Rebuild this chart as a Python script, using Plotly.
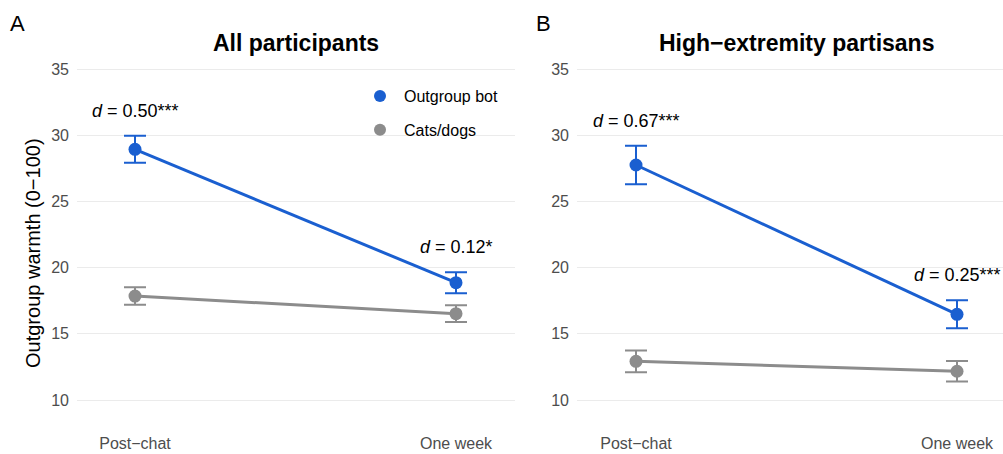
import plotly.graph_objects as go

# ---- data ----
timepoints = ["Post\u2212chat", "One week"]
series_names = ["Outgroup bot", "Cats/dogs"]

all_bot_mean = [28.93, 18.86]
all_bot_ci = [1.02, 0.79]
all_cat_mean = [17.85, 16.52]
all_cat_ci = [0.66, 0.63]

high_bot_mean = [27.75, 16.47]
high_bot_ci = [1.46, 1.06]
high_cat_mean = [12.92, 12.17]
high_cat_ci = [0.82, 0.78]

all_effects = ["0.50***", "0.12*"]
high_effects = ["0.67***", "0.25***"]

panel_titles = ["All participants", "High\u2212extremity partisans"]
panel_tags = ["A", "B"]
y_ticks = [10, 15, 20, 25, 30, 35]

# ---- style ----
BLUE = "#1a5fd0"
GRAY = "#8c8c8c"
FONT = "Liberation Sans, Arial, Helvetica, sans-serif"
W, H = 1003, 454
MT, MB = 52, 22
PH = H - MT - MB

def px_x(p):
    return p / W

def px_y(p):
    return (H - MB - p) / PH

xpos = [1, 2]

fig = go.Figure()

panels = [
    ("x", "y", all_bot_mean, all_bot_ci, all_cat_mean, all_cat_ci, all_effects),
    ("x2", "y2", high_bot_mean, high_bot_ci, high_cat_mean, high_cat_ci, high_effects),
]

for xa, ya, bm, bc, cm, cc, eff in panels:
    for mean, ci, col in [(cm, cc, GRAY), (bm, bc, BLUE)]:
        fig.add_trace(go.Scatter(
            x=xpos, y=mean, xaxis=xa, yaxis=ya, mode="lines+markers",
            line=dict(color=col, width=3),
            marker=dict(color=col, size=13),
            error_y=dict(type="data", array=ci, visible=True, color=col,
                         thickness=2, width=11),
            showlegend=False, hoverinfo="skip",
        ))
    for i, lab in enumerate(eff):
        fig.add_annotation(
            x=xpos[i], y=bm[i] + bc[i], xref=xa, yref=ya,
            text="<i>d</i> = " + lab, showarrow=False, yshift=25,
            yanchor="middle", xanchor="center",
            font=dict(family=FONT, size=18, color="black"),
        )

# legend-only traces
for name, col in zip(series_names, [BLUE, GRAY]):
    fig.add_trace(go.Scatter(
        x=[None], y=[None], mode="markers", name=name,
        marker=dict(color=col, size=13), legendgroup=name,
    ))

axis_common = dict(showline=False, zeroline=False, ticks="")
fig.update_layout(
    width=W, height=H, autosize=False,
    margin=dict(l=0, r=0, t=MT, b=MB, pad=0),
    paper_bgcolor="white", plot_bgcolor="white",
    font=dict(family=FONT, color="black"),
    xaxis=dict(domain=[px_x(77), px_x(515)], range=[1 - 58 / 321, 2 + 59 / 321],
               tickvals=xpos, ticktext=timepoints, showgrid=False,
               tickfont=dict(size=16, color="#4d4d4d"), **axis_common),
    xaxis2=dict(domain=[px_x(577), 1.0], range=[1 - 59 / 321, 2 + 46 / 321],
                tickvals=xpos, ticktext=timepoints, showgrid=False, anchor="y2",
                tickfont=dict(size=16, color="#4d4d4d"), **axis_common),
    yaxis=dict(range=[7.583, 36.284], tickvals=y_ticks, gridcolor="#ebebeb",
               gridwidth=1.4, tickfont=dict(size=16, color="#4d4d4d"),
               ticklabelstandoff=7, anchor="x", **axis_common),
    yaxis2=dict(range=[7.583, 36.284], tickvals=y_ticks, gridcolor="#ebebeb",
                gridwidth=1.4, tickfont=dict(size=16, color="#4d4d4d"),
                ticklabelstandoff=7, anchor="x2", **axis_common),
    legend=dict(x=px_x(356), y=px_y(79), xanchor="left", yanchor="top",
                font=dict(size=16, family=FONT, color="black"),
                bgcolor="rgba(0,0,0,0)", tracegroupgap=10,
                itemsizing="constant", itemwidth=38),
    showlegend=True,
)

# titles, tags, y title
title_centers = [(77 + 515) / 2, (577 + 1015) / 2]
for t, cx in zip(panel_titles, title_centers):
    fig.add_annotation(x=px_x(cx), y=px_y(43), xref="paper", yref="paper",
                       text="<b>" + t + "</b>", showarrow=False,
                       xanchor="center", yanchor="middle",
                       font=dict(family=FONT, size=23, color="black"))
for t, cx in zip(panel_tags, [17, 543]):
    fig.add_annotation(x=px_x(cx), y=px_y(24), xref="paper", yref="paper",
                       text=t, showarrow=False, xanchor="center", yanchor="middle",
                       font=dict(family=FONT, size=22, color="black"))
fig.add_annotation(x=px_x(33), y=px_y(253), xref="paper", yref="paper",
                   text="Outgroup warmth (0\u2212100)", showarrow=False,
                   textangle=-90, xanchor="center", yanchor="middle",
                   font=dict(family=FONT, size=20, color="black"))

fig.write_html(
    "out.html",
    config={"displayModeBar": False},
    post_script="document.body.style.margin='0px';document.body.style.overflow='hidden';",
)
